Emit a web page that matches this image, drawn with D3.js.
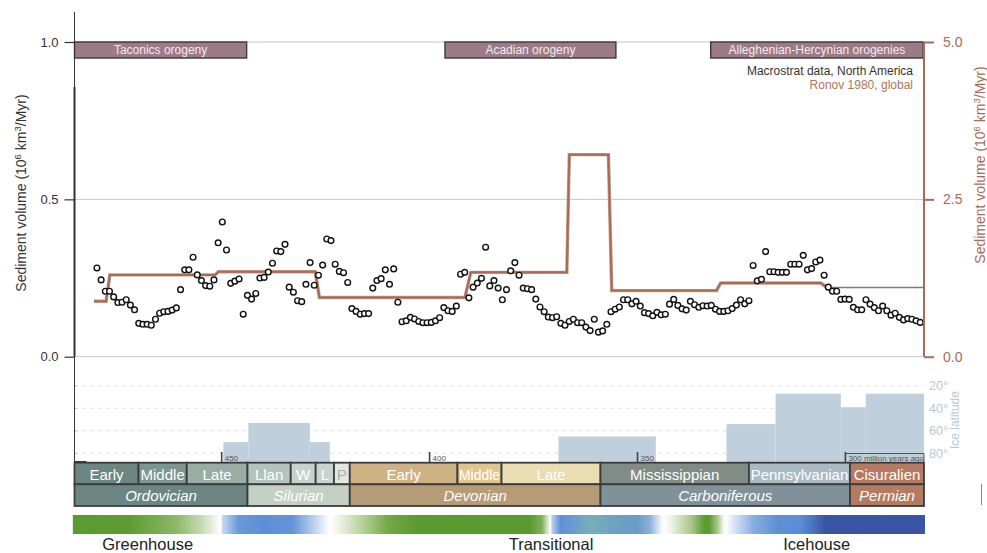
<!DOCTYPE html>
<html>
<head>
<meta charset="utf-8">
<script src="https://d3js.org/d3.v7.min.js"></script>
<style>
  body { margin: 0; background: #fff; }
  svg { display: block; font-family: "Liberation Sans", Arial, Helvetica, sans-serif; }
</style>
</head>
<body>
<svg id="chart" width="987" height="553"></svg>
<script>
// ---- Macrostrat sediment volume, North America (10^6 km^3/Myr), one sample per ~1 Myr from 480 to 282 Ma
const sampleFirstAge = 480;
const sampleLastAge = 282;
const macrostratVolume = [
  0.282, 0.244, 0.208, 0.208, 0.190, 0.172, 0.173, 0.181, 0.164, 0.149,
  0.106, 0.103, 0.103, 0.100, 0.119, 0.138, 0.143, 0.144, 0.148, 0.155,
  0.213, 0.276, 0.276, 0.316, 0.260, 0.242, 0.226, 0.224, 0.244, 0.362,
  0.428, 0.339, 0.233, 0.240, 0.247, 0.135, 0.195, 0.183, 0.201, 0.250,
  0.252, 0.269, 0.297, 0.336, 0.334, 0.357, 0.221, 0.205, 0.178, 0.175,
  0.230, 0.299, 0.227, 0.259, 0.291, 0.374, 0.369, 0.294, 0.271, 0.267,
  0.236, 0.153, 0.144, 0.135, 0.137, 0.137, 0.218, 0.242, 0.248, 0.276,
  0.230, 0.279, 0.173, 0.111, 0.114, 0.125, 0.120, 0.112, 0.108, 0.108,
  0.109, 0.114, 0.124, 0.156, 0.146, 0.144, 0.161, 0.262, 0.268, 0.187,
  0.221, 0.234, 0.249, 0.348, 0.225, 0.242, 0.218, 0.181, 0.213, 0.273,
  0.299, 0.259, 0.218, 0.216, 0.213, 0.183, 0.158, 0.143, 0.126, 0.124,
  0.127, 0.106, 0.100, 0.112, 0.119, 0.108, 0.108, 0.094, 0.083, 0.119,
  0.078, 0.082, 0.103, 0.143, 0.151, 0.158, 0.181, 0.181, 0.168, 0.176,
  0.161, 0.140, 0.137, 0.130, 0.141, 0.133, 0.135, 0.167, 0.182, 0.163,
  0.152, 0.148, 0.176, 0.165, 0.157, 0.162, 0.161, 0.163, 0.151, 0.144,
  0.144, 0.146, 0.153, 0.164, 0.181, 0.168, 0.178, 0.290, 0.241, 0.246,
  0.334, 0.270, 0.270, 0.268, 0.268, 0.268, 0.294, 0.294, 0.294, 0.322,
  0.276, 0.280, 0.301, 0.307, 0.259, 0.221, 0.208, 0.208, 0.182, 0.183,
  0.182, 0.157, 0.149, 0.149, 0.181, 0.167, 0.156, 0.146, 0.161, 0.146,
  0.132, 0.138, 0.125, 0.117, 0.121, 0.119, 0.114, 0.109
];

// ---- Ronov 1980 global sediment volume (right axis), vertices of the stepped curve
const ronovAges = [480.7, 477.8, 476.9, 451.6, 450.8, 427.5, 426.5, 391.5, 390.1, 367.0, 366.4, 357.0, 356.2, 331.0, 330.0, 305.9, 304.5];
const ronovVals = [0.88, 0.88, 1.30, 1.30, 1.35, 1.35, 0.94, 0.94, 1.34, 1.34, 3.21, 3.21, 1.05, 1.05, 1.17, 1.17, 1.10];
const ronovTailAges = [304.5, 281.1];
const ronovTailVals = [1.10, 1.10];

// ---- Orogenies
const orogenyNames = ["Taconics orogeny", "Acadian orogeny", "Alleghenian-Hercynian orogenies"];
const orogenyStart = [485.4, 396.3, 332.4];
const orogenyEnd = [444.0, 355.2, 281.3];

// ---- Ice latitude (degrees) reached by glaciation
const iceStart = [449.6, 443.6, 428.8, 369.0, 328.6, 316.8, 301.1, 295.1];
const iceEnd   = [443.6, 428.8, 424.0, 345.6, 316.8, 301.1, 295.1, 281.1];
const iceLat   = [70, 53, 70, 65, 54, 27, 39, 27];
const iceTicks = [20, 40, 60, 80];

// ---- Geologic time scale
const periodNames  = ["Ordovician", "Silurian", "Devonian", "Carboniferous", "Permian"];
const periodStart  = [485.4, 443.8, 419.2, 358.9, 298.9];
const periodEnd    = [443.8, 419.2, 358.9, 298.9, 272.3];
const periodColors = ["#6c8783", "#c4cfc5", "#b59c76", "#7f9199", "#b57a62"];

const epochNames  = ["Early", "Middle", "Late", "Llan", "W", "L", "P", "Early", "Middle", "Late", "Mississippian", "Pennsylvanian", "Cisuralien"];
const epochStart  = [485.4, 470.0, 458.4, 443.8, 433.4, 427.4, 423.0, 419.2, 393.3, 382.7, 358.9, 323.2, 298.9];
const epochEnd    = [470.0, 458.4, 443.8, 433.4, 427.4, 423.0, 419.2, 393.3, 382.7, 358.9, 323.2, 298.9, 272.3];
const epochColors = ["#6c8781", "#7b978f", "#98ada4", "#b3c4bd", "#c6d2cb", "#c9d4ce", "#e2e7e2", "#cfb283", "#e2c68f", "#eadcb3", "#808c85", "#a9bac2", "#b57a62"];
const epochTextColors = ["#fff", "#fff", "#fff", "#fff", "#fff", "#fff", "#a9b2aa", "#fff", "#fff", "#fff", "#fff", "#fff", "#fff"];

const ageTicks = [450, 400, 350, 300];
const ageTickLabels = ["450", "400", "350", "300 million years ago"];

// ---- Climate state band
const climateAges = [485.8, 472, 461, 455, 451.2, 450.1, 449.9, 446, 440, 433, 429, 425, 424, 422.5, 416, 410, 403, 376, 373, 371.6, 370.9, 370.6, 368.5, 364, 361, 356, 350, 347, 344.5, 343.8, 342, 337, 334, 332.8, 330.8, 329.3, 328.7, 327, 322, 316, 311, 307.5, 305, 281.1];
const climateColors = ["#5a9a2e", "#5e9c33", "#8cb866", "#c4dab0", "#f4f8f0", "#ffffff", "#c8daf2", "#6a9ad8", "#5b8fd5", "#6294d6", "#a6c2ea", "#eef3fb", "#ffffff", "#f4f8ef", "#b4d194", "#74a847", "#5a9a2e", "#5a9a2e", "#7fb05a", "#d7e7c8", "#ffffff", "#b9d0ef", "#5f8fd6", "#6ea4c4", "#76aeb9", "#6ea2c2", "#6a9bc7", "#8bb2d7", "#e9f0f6", "#ffffff", "#eef4e8", "#a6c786", "#5e9c33", "#5a9a2e", "#a5c78a", "#f3f8f0", "#ffffff", "#dce7f7", "#86acdf", "#5b90d5", "#5b8fd4", "#4a6fbd", "#3b55a5", "#3b55a6"];
const climateLabels = ["Greenhouse", "Transitional", "Icehouse"];
const climateLabelAges = [467.8, 370.8, 306.9];

// ---------------------------------------------------------------------------
const svg = d3.select("#chart");
const ageDomain = [485.4, 281.1];
const x = d3.scaleLinear().domain(ageDomain).range([74.5, 924]);
const yL = d3.scaleLinear().domain([0, 1]).range([356.7, 42]);
const yR = d3.scaleLinear().domain([0, 5]).range([356.7, 42]);
const iceY = d3.scaleLinear().domain([0, 90]).range([363.3, 464.6]);
const clampAge = a => Math.max(a, ageDomain[1]);

const ronovColor = "#a86b57";
const axisColor = "#333";

// gridlines for the volume axes
svg.append("g").selectAll("line").data([0, 0.5, 1]).join("line")
  .attr("x1", x(ageDomain[0])).attr("x2", x(ageDomain[1]))
  .attr("y1", d => yL(d)).attr("y2", d => yL(d))
  .attr("stroke", "#c8c8c8").attr("stroke-width", 1);

// ice latitude dashed gridlines
svg.append("g").selectAll("line").data(iceTicks).join("line")
  .attr("x1", x(ageDomain[0])).attr("x2", x(ageDomain[1]))
  .attr("y1", d => iceY(d)).attr("y2", d => iceY(d))
  .attr("stroke", "#dbe3ea").attr("stroke-width", 1).attr("stroke-dasharray", "4,4");

// ice bars
svg.append("g").selectAll("rect").data(iceLat).join("rect")
  .attr("x", (d, i) => x(iceStart[i]))
  .attr("width", (d, i) => x(iceEnd[i]) - x(iceStart[i]))
  .attr("y", d => iceY(d))
  .attr("height", d => iceY(90) - iceY(d))
  .attr("fill", "#bfd0dc");

// ice latitude axis
const iceAxis = svg.append("g").attr("transform", `translate(${x(ageDomain[1])},0)`)
  .call(d3.axisRight(iceY).tickValues(iceTicks).tickFormat(d => d + "°").tickSize(0).tickPadding(5));
iceAxis.select(".domain").remove();
iceAxis.selectAll("text").attr("fill", "#b6c8d6").attr("font-size", 12.5).attr("font-family", null);
svg.append("text").attr("transform", `translate(959,${(iceY(20) + iceY(80)) / 2 + 0.5}) rotate(-90)`)
  .attr("text-anchor", "middle").attr("font-size", 12).attr("fill", "#b6c8d6").text("Ice latitude");
// small ticks on the left edge of the ice panel
svg.append("g").selectAll("line").data(iceTicks).join("line")
  .attr("x1", x(ageDomain[0])).attr("x2", x(ageDomain[0]) + 3)
  .attr("y1", d => iceY(d)).attr("y2", d => iceY(d))
  .attr("stroke", "#b6c8d6").attr("stroke-width", 1);

// orogeny boxes
const oro = svg.append("g");
oro.selectAll("rect").data(orogenyNames).join("rect")
  .attr("x", (d, i) => x(orogenyStart[i]))
  .attr("width", (d, i) => x(orogenyEnd[i]) - x(orogenyStart[i]))
  .attr("y", yL(1)).attr("height", 16)
  .attr("fill", "#9d7a87").attr("stroke", "#3a3a3a").attr("stroke-width", 1.4);
oro.selectAll("text").data(orogenyNames).join("text")
  .attr("x", (d, i) => (x(orogenyStart[i]) + x(orogenyEnd[i])) / 2)
  .attr("y", yL(1) + 12.3)
  .attr("text-anchor", "middle").attr("font-size", 12).attr("fill", "#f3ecef")
  .text(d => d);

// legend
svg.append("text").attr("x", 913).attr("y", 75).attr("text-anchor", "end")
  .attr("font-size", 12).attr("fill", "#333").text("Macrostrat data, North America");
svg.append("text").attr("x", 913).attr("y", 89).attr("text-anchor", "end")
  .attr("font-size", 12).attr("fill", "#b07560").text("Ronov 1980, global");

// Ronov curve
const ronovLine = d3.line().x(d => x(d[0])).y(d => yR(d[1]));
svg.append("path").datum(ronovAges.map((a, i) => [a, ronovVals[i]]))
  .attr("d", ronovLine).attr("fill", "none")
  .attr("stroke", "#c49a8b").attr("stroke-width", 3.4).attr("stroke-linejoin", "miter");
svg.append("path").datum(ronovAges.map((a, i) => [a, ronovVals[i]]))
  .attr("d", ronovLine).attr("fill", "none")
  .attr("stroke", ronovColor).attr("stroke-width", 2).attr("stroke-linejoin", "miter");
svg.append("path").datum(ronovTailAges.map((a, i) => [a, ronovTailVals[i]]))
  .attr("d", ronovLine).attr("fill", "none")
  .attr("stroke", ronovColor).attr("stroke-width", 1.6);

// Macrostrat points
const step = (sampleFirstAge - sampleLastAge) / (macrostratVolume.length - 1);
svg.append("g").selectAll("circle").data(macrostratVolume).join("circle")
  .attr("cx", (d, i) => x(sampleFirstAge - i * step))
  .attr("cy", d => yL(d))
  .attr("r", 2.85)
  .attr("fill", "#fff").attr("stroke", "#111").attr("stroke-width", 1.4);

// left axis
const leftAxis = svg.append("g").attr("transform", `translate(${x(ageDomain[0])},0)`)
  .call(d3.axisLeft(yL).tickValues([0, 0.5, 1]).tickFormat(d3.format(".1f")).tickSize(10).tickPadding(6));
leftAxis.select(".domain").remove();
leftAxis.selectAll("line").attr("stroke", axisColor).attr("stroke-width", 1.2);
leftAxis.selectAll("text").attr("fill", axisColor).attr("font-size", 13).attr("font-family", null);
svg.append("line").attr("x1", x(ageDomain[0])).attr("x2", x(ageDomain[0]))
  .attr("y1", 12).attr("y2", 463).attr("stroke", axisColor).attr("stroke-width", 1);
svg.append("line").attr("x1", x(ageDomain[0])).attr("x2", x(ageDomain[0]))
  .attr("y1", 87).attr("y2", yL(0)).attr("stroke", axisColor).attr("stroke-width", 2);
svg.append("line").attr("x1", x(ageDomain[0])).attr("x2", x(ageDomain[0]) + 12)
  .attr("y1", 462).attr("y2", 462).attr("stroke", axisColor).attr("stroke-width", 2);

const leftTitle = svg.append("text").attr("transform", `translate(26,193) rotate(-90)`)
  .attr("text-anchor", "middle").attr("font-size", 14).attr("fill", axisColor);
leftTitle.append("tspan").text("Sediment volume (10");
leftTitle.append("tspan").attr("dy", -5).attr("font-size", 9.5).text("6");
leftTitle.append("tspan").attr("dy", 5).text(" km");
leftTitle.append("tspan").attr("dy", -5).attr("font-size", 9.5).text("3");
leftTitle.append("tspan").attr("dy", 5).text("/Myr)");

// right axis
const rightAxis = svg.append("g").attr("transform", `translate(${x(ageDomain[1])},0)`)
  .call(d3.axisRight(yR).tickValues([0, 2.5, 5]).tickFormat(d3.format(".1f")).tickSize(10).tickPadding(9));
rightAxis.select(".domain").attr("stroke", ronovColor).attr("stroke-width", 2).attr("d", `M0,${yR(5)}V${yR(0)}`);
rightAxis.selectAll("line").attr("stroke", ronovColor).attr("stroke-width", 2);
rightAxis.selectAll("text").attr("fill", ronovColor).attr("font-size", 14).attr("font-family", null);

const rightTitle = svg.append("text").attr("transform", `translate(985,165) rotate(-90)`)
  .attr("text-anchor", "middle").attr("font-size", 14).attr("fill", ronovColor);
rightTitle.append("tspan").text("Sediment volume (10");
rightTitle.append("tspan").attr("dy", -5).attr("font-size", 9.5).text("6");
rightTitle.append("tspan").attr("dy", 5).text(" km");
rightTitle.append("tspan").attr("dy", -5).attr("font-size", 9.5).text("3");
rightTitle.append("tspan").attr("dy", 5).text("/Myr)");

// age ticks above the time scale
const ageAxis = svg.append("g");
ageAxis.selectAll("line").data(ageTicks).join("line")
  .attr("x1", d => x(d)).attr("x2", d => x(d)).attr("y1", 452).attr("y2", 463)
  .attr("stroke", "#444").attr("stroke-width", 1.6);
ageAxis.selectAll("text").data(ageTicks).join("text")
  .attr("x", d => x(d) + 3).attr("y", 461)
  .attr("font-size", 8).attr("fill", "#555").text((d, i) => ageTickLabels[i]);
svg.append("path")
  .attr("d", `M${x(300)},453.5H${x(ageDomain[1])}V463`)
  .attr("fill", "none").attr("stroke", "#555").attr("stroke-width", 1);

// epochs row
const rowTop = 462.7, rowMid = 484.3, rowBot = 506;
const ep = svg.append("g");
ep.selectAll("rect").data(epochNames).join("rect")
  .attr("x", (d, i) => x(epochStart[i]))
  .attr("width", (d, i) => x(clampAge(epochEnd[i])) - x(epochStart[i]))
  .attr("y", rowTop).attr("height", rowMid - rowTop)
  .attr("fill", (d, i) => epochColors[i]).attr("stroke", "#3c3c3c").attr("stroke-width", 1.8);
ep.selectAll("text").data(epochNames).join("text")
  .attr("x", (d, i) => (x(epochStart[i]) + x(clampAge(epochEnd[i]))) / 2)
  .attr("y", 479.5).attr("text-anchor", "middle").attr("font-size", 15)
  .attr("fill", (d, i) => epochTextColors[i]).text(d => d)
  .each(function (d, i) {
    const w = x(clampAge(epochEnd[i])) - x(epochStart[i]) - 3;
    if (this.getComputedTextLength() > w) {
      d3.select(this).attr("textLength", w).attr("lengthAdjust", "spacingAndGlyphs");
    }
  });

// periods row
const pe = svg.append("g");
pe.selectAll("rect").data(periodNames).join("rect")
  .attr("x", (d, i) => x(periodStart[i]))
  .attr("width", (d, i) => x(clampAge(periodEnd[i])) - x(periodStart[i]))
  .attr("y", rowMid).attr("height", rowBot - rowMid)
  .attr("fill", (d, i) => periodColors[i]).attr("stroke", "#3c3c3c").attr("stroke-width", 1.8);
pe.selectAll("text").data(periodNames).join("text")
  .attr("x", (d, i) => (x(periodStart[i]) + x(clampAge(periodEnd[i]))) / 2)
  .attr("y", 500.5).attr("text-anchor", "middle").attr("font-size", 15)
  .attr("font-style", "italic").attr("fill", "#fff").text(d => d);

// climate band
const x0 = x(climateAges[0]), x1 = x(climateAges[climateAges.length - 1]);
const grad = svg.append("defs").append("linearGradient").attr("id", "climate")
  .attr("gradientUnits", "userSpaceOnUse").attr("x1", x0).attr("x2", x1).attr("y1", 0).attr("y2", 0);
grad.selectAll("stop").data(climateAges).join("stop")
  .attr("offset", d => (x(d) - x0) / (x1 - x0))
  .attr("stop-color", (d, i) => climateColors[i]);
svg.append("rect").attr("x", x0).attr("width", x1 - x0 + 1).attr("y", 515).attr("height", 19)
  .attr("fill", "url(#climate)");
svg.append("g").selectAll("text").data(climateLabels).join("text")
  .attr("x", (d, i) => x(climateLabelAges[i])).attr("y", 549.5)
  .attr("text-anchor", "middle").attr("font-size", 16.5).attr("fill", "#222").text(d => d);

// thin marker at the far right of the period row
svg.append("line").attr("x1", 981.5).attr("x2", 981.5).attr("y1", 484).attr("y2", 505)
  .attr("stroke", "#b57a62").attr("stroke-width", 1);
</script>
</body>
</html>
